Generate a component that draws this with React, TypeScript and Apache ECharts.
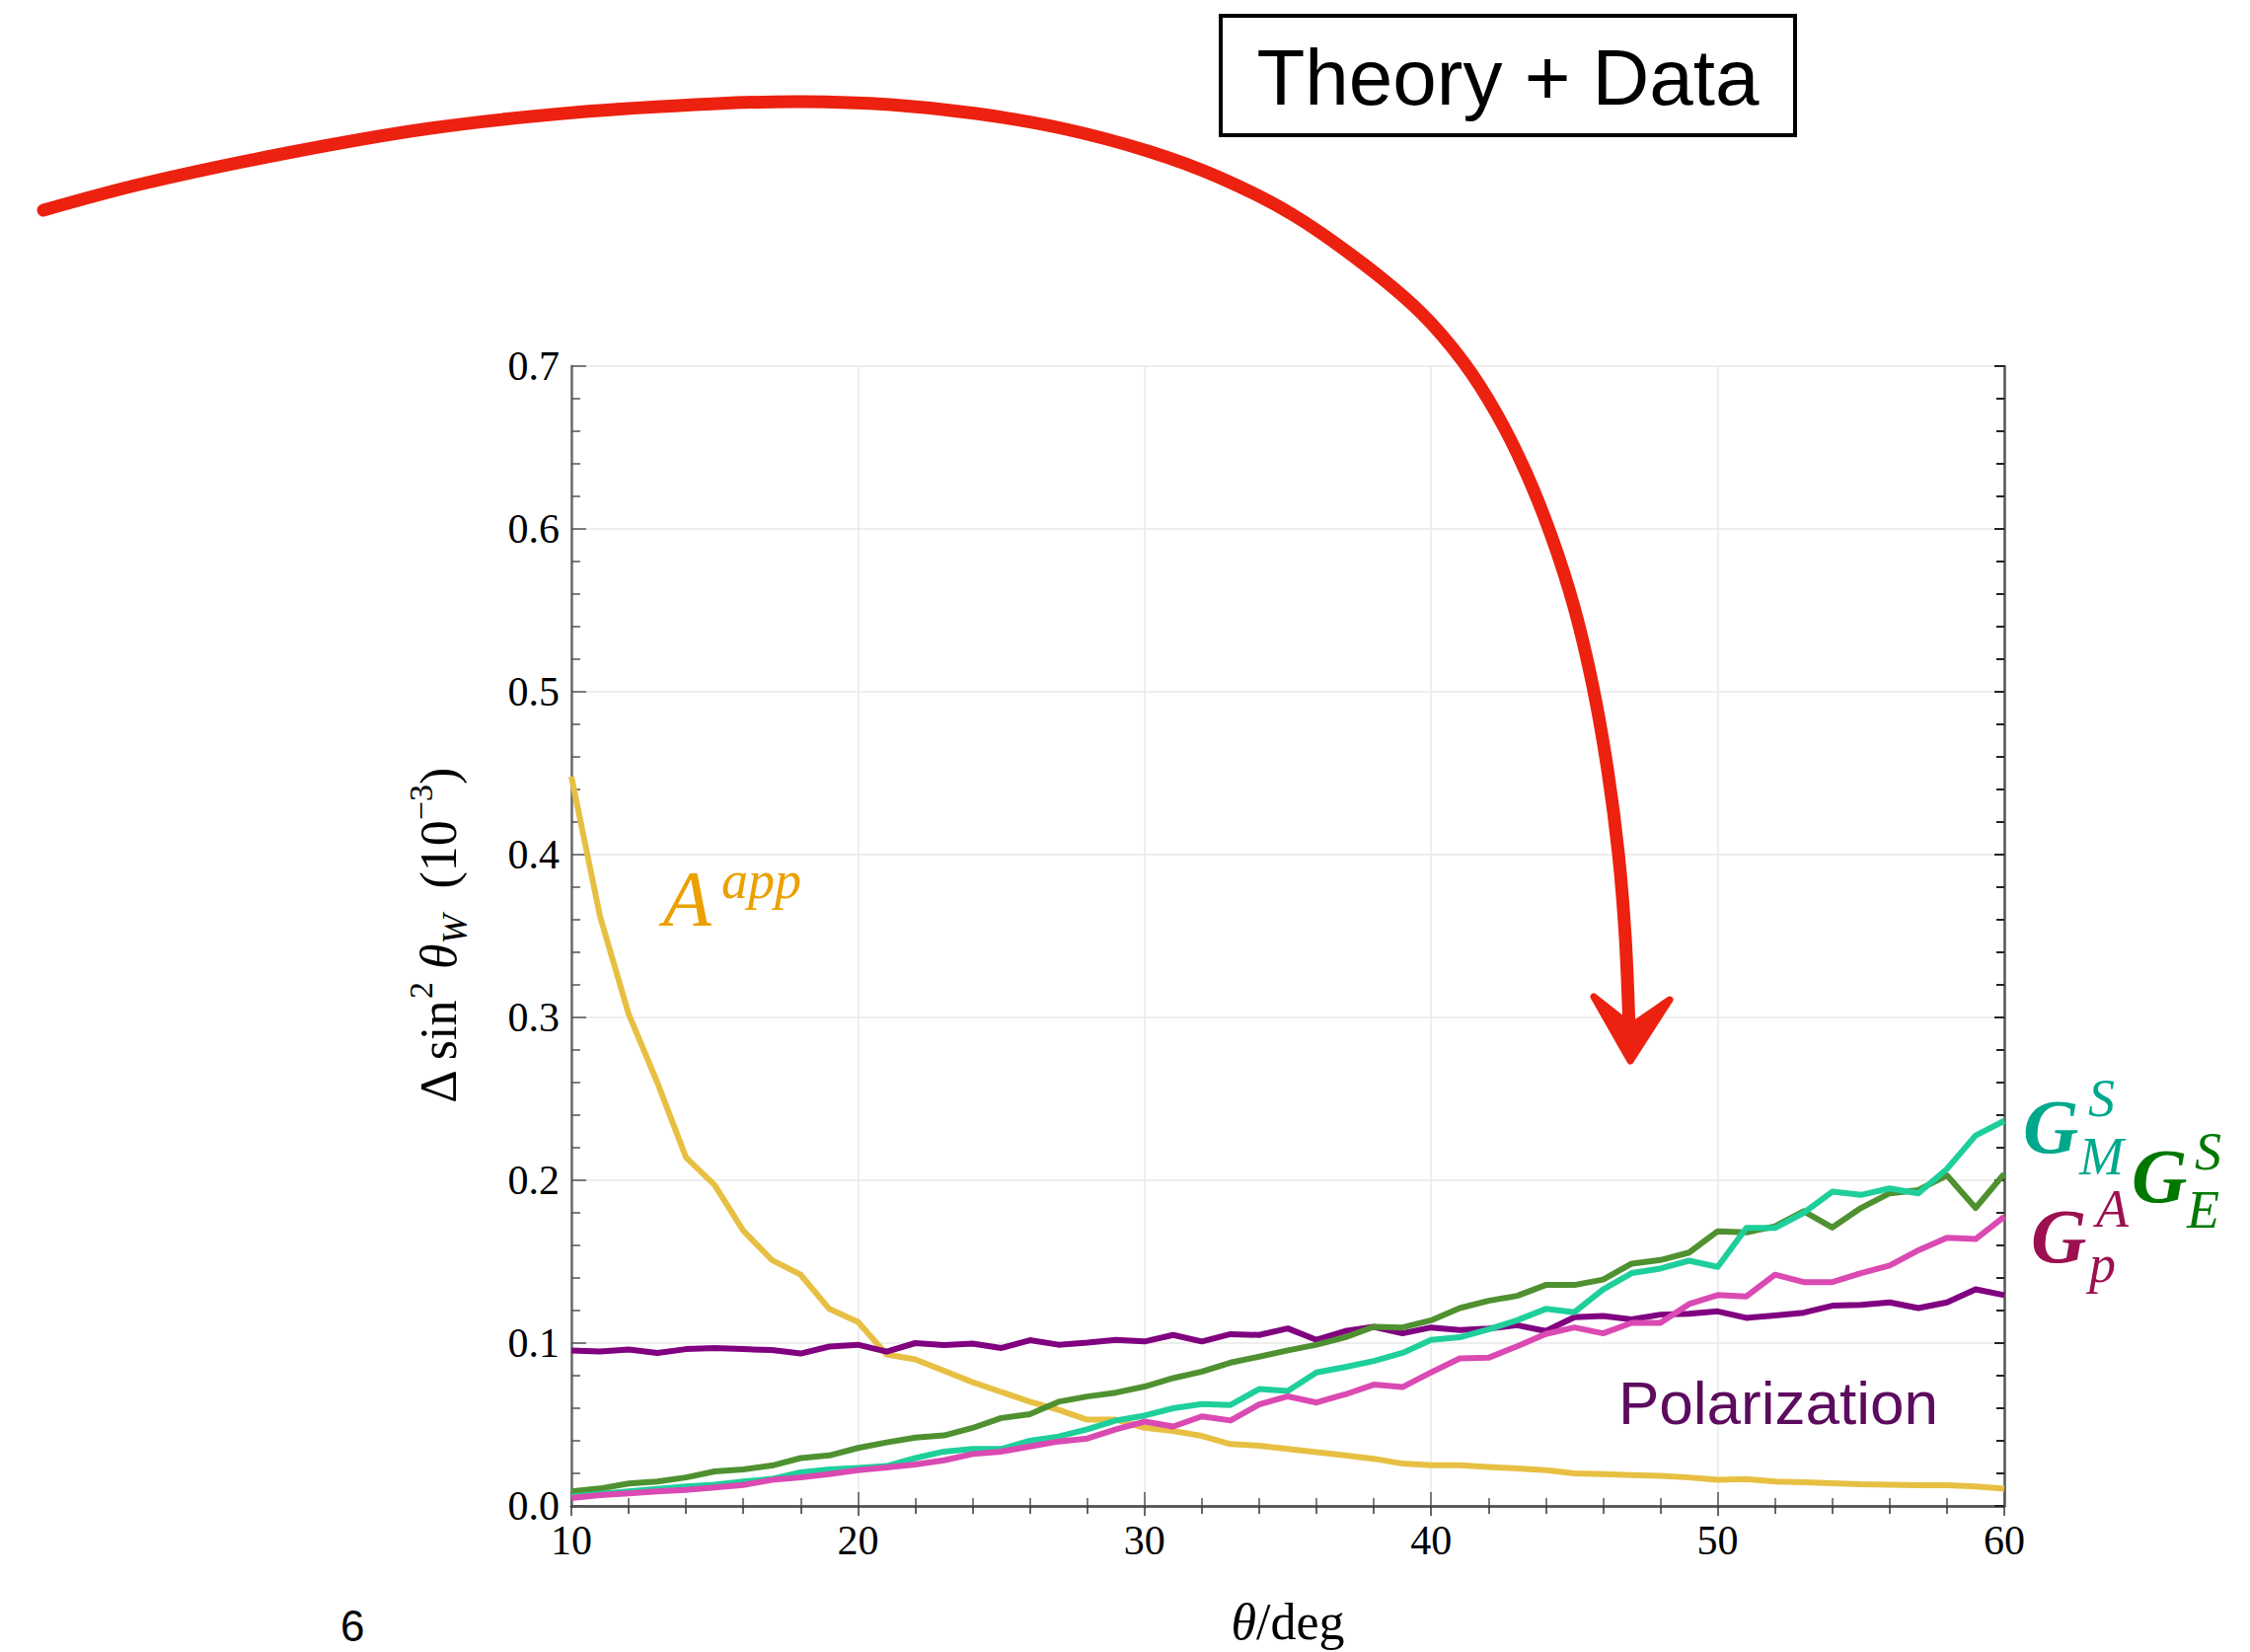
import React, { useEffect, useRef } from "react";
import * as echarts from "echarts";

// ---- data ----
const angles = [10, 11, 12, 13, 14, 15, 16, 17, 18, 19, 20, 21, 22, 23, 24, 25, 26, 27, 28, 29, 30, 31, 32, 33, 34, 35, 36, 37, 38, 39, 40, 41, 42, 43, 44, 45, 46, 47, 48, 49, 50, 51, 52, 53, 54, 55, 56, 57, 58, 59, 60];

const aApp = [0.448, 0.362, 0.302, 0.26, 0.214, 0.197, 0.169, 0.151, 0.142, 0.121, 0.113, 0.093, 0.09, 0.083, 0.076, 0.07, 0.064, 0.059, 0.053, 0.053, 0.048, 0.046, 0.043, 0.038, 0.037, 0.035, 0.033, 0.031, 0.029, 0.026, 0.025, 0.025, 0.024, 0.023, 0.022, 0.02, 0.0195, 0.019, 0.0185, 0.0175, 0.016, 0.0165, 0.015, 0.0145, 0.014, 0.0133, 0.013, 0.0127, 0.0127, 0.012, 0.0106];

const polarization = [0.0954, 0.0948, 0.096, 0.0939, 0.0963, 0.097, 0.0963, 0.0957, 0.0936, 0.0979, 0.099, 0.0948, 0.1, 0.0988, 0.0997, 0.097, 0.1018, 0.099, 0.1003, 0.102, 0.101, 0.105, 0.101, 0.1055, 0.105, 0.109, 0.102, 0.1074, 0.11, 0.106, 0.1096, 0.108, 0.109, 0.111, 0.1074, 0.1159, 0.1167, 0.1145, 0.1175, 0.118, 0.1195, 0.1155, 0.117, 0.1187, 0.123, 0.1235, 0.125, 0.1215, 0.125, 0.133, 0.1295];

const gES = [0.0089, 0.0107, 0.0138, 0.015, 0.0175, 0.0212, 0.0224, 0.0248, 0.0294, 0.031, 0.0356, 0.039, 0.042, 0.0433, 0.0479, 0.054, 0.0564, 0.064, 0.0672, 0.0696, 0.0733, 0.0785, 0.0825, 0.088, 0.0917, 0.0955, 0.099, 0.1036, 0.11, 0.1096, 0.114, 0.1215, 0.126, 0.129, 0.1357, 0.1357, 0.139, 0.1488, 0.151, 0.1556, 0.1687, 0.168, 0.1717, 0.181, 0.171, 0.183, 0.192, 0.194, 0.203, 0.183, 0.204];

const gMS = [0.0058, 0.0074, 0.0089, 0.0104, 0.012, 0.013, 0.015, 0.0166, 0.0206, 0.0224, 0.0233, 0.0245, 0.0294, 0.0334, 0.035, 0.035, 0.04, 0.0426, 0.047, 0.0525, 0.0555, 0.06, 0.0626, 0.062, 0.0718, 0.0706, 0.082, 0.0853, 0.089, 0.094, 0.102, 0.1036, 0.1084, 0.114, 0.121, 0.119, 0.133, 0.143, 0.1458, 0.1506, 0.1468, 0.1707, 0.1707, 0.18, 0.193, 0.191, 0.195, 0.192, 0.207, 0.2275, 0.2365];

const gpA = [0.0049, 0.0067, 0.0077, 0.0089, 0.0098, 0.0113, 0.0129, 0.016, 0.0175, 0.0196, 0.022, 0.0236, 0.0255, 0.028, 0.0319, 0.0334, 0.0365, 0.0396, 0.0414, 0.047, 0.0518, 0.0488, 0.055, 0.0525, 0.0623, 0.0673, 0.0635, 0.0685, 0.0745, 0.073, 0.082, 0.0906, 0.091, 0.098, 0.1056, 0.1096, 0.106, 0.1124, 0.1124, 0.124, 0.1295, 0.1287, 0.142, 0.1375, 0.1375, 0.143, 0.1476, 0.157, 0.1647, 0.1639, 0.1777];

const xTicks = { min: 10, max: 60, interval: 10 };
const yTicks = { min: 0, max: 0.7, interval: 0.1 };

const SERIF = "'Liberation Serif', 'Times New Roman', serif";
const SANS = "'Liberation Sans', Arial, sans-serif";

const toPairs = (vals: number[]) => angles.map((a, i) => [a, vals[i]]);

export default function App() {
  const ref = useRef<HTMLDivElement>(null);

  useEffect(() => {
    if (!ref.current) return;
    const chart = echarts.init(ref.current, null, { renderer: "svg" });

    const axisLineStyle = { color: "#6a6a6a", width: 2.5 };
    const frameLineStyle = { color: "#555", width: 2.5 };

    const mkLine = (name: string, vals: number[], color: string, z: number) => ({
      name,
      type: "line",
      data: toPairs(vals),
      showSymbol: false,
      symbol: "none",
      lineStyle: { color, width: 6, join: "round" },
      itemStyle: { color },
      z,
      xAxisIndex: 0,
      yAxisIndex: 0,
    });

    const richName = {
      n: { fontFamily: SERIF, fontSize: 52, color: "#000", lineHeight: 70, verticalAlign: "middle" },
      i: { fontFamily: SERIF, fontSize: 52, fontStyle: "italic", color: "#000", lineHeight: 70, verticalAlign: "middle" },
      sup: { fontFamily: SERIF, fontSize: 34, color: "#000", lineHeight: 34, verticalAlign: "top" },
      sub: { fontFamily: SERIF, fontSize: 36, fontStyle: "italic", color: "#000", lineHeight: 34, verticalAlign: "bottom" },
    };

    const arrowPts = [
      [44, 213], [145, 186], [291, 155], [436, 130], [582, 114], [727, 105], [814, 103], [902, 106],
      [989, 115], [1076, 130], [1163, 153], [1236, 180], [1309, 217], [1381, 267], [1440, 317],
      [1483, 367], [1517, 420], [1546, 478], [1572, 543], [1595, 615], [1614, 695], [1629, 780],
      [1640, 865], [1647, 950], [1651, 1045],
    ];

    const txt = (text: string, x: number, y: number, o: any) => ({
      type: "text",
      x,
      y,
      z: 100,
      style: { text, align: "left", verticalAlign: "middle", ...o },
    });

    chart.setOption({
      animation: false,
      backgroundColor: "#fff",
      grid: { left: 579, right: 249, top: 371, bottom: 143, containLabel: false },
      xAxis: [
        {
          type: "value",
          position: "bottom",
          ...xTicks,
          name: "{i|θ}{n|/deg}",
          nameLocation: "middle",
          nameGap: 82,
          nameTextStyle: { rich: richName },
          axisLine: { show: true, lineStyle: axisLineStyle },
          axisTick: { show: true, inside: true, length: 14, lineStyle: { color: "#555", width: 1.5 } },
          minorTick: { show: true, splitNumber: 5, length: 8, lineStyle: { color: "#555", width: 1.5 } },
          splitLine: { show: true, lineStyle: { color: "#e8e8e8", width: 1.5 } },
          axisLabel: { fontFamily: SERIF, fontSize: 42, color: "#000", margin: 14 },
        },
        {
          type: "value",
          position: "top",
          ...xTicks,
          axisLine: { show: true, lineStyle: frameLineStyle },
          axisTick: { show: true, inside: true, length: 10, lineStyle: { color: "#333", width: 1.5 } },
          minorTick: { show: true, splitNumber: 5, length: 8, lineStyle: { color: "#333", width: 1.5 } },
          splitLine: { show: false },
          axisLabel: { show: false },
        },
      ],
      yAxis: [
        {
          type: "value",
          position: "left",
          ...yTicks,
          name: "{n|Δ sin}{sup|2}{n| }{i|θ}{sub|W}{n|  (10}{sup|−3}{n|)}",
          nameLocation: "middle",
          nameRotate: 90,
          nameGap: 100,
          nameTextStyle: { rich: richName },
          axisLine: { show: true, lineStyle: axisLineStyle },
          axisTick: { show: true, inside: true, length: 15, lineStyle: { color: "#555", width: 1.5 } },
          minorTick: { show: true, splitNumber: 5, length: 9, lineStyle: { color: "#555", width: 1.5 } },
          splitLine: { show: true, lineStyle: { color: "#e8e8e8", width: 1.5 } },
          axisLabel: {
            fontFamily: SERIF,
            fontSize: 42,
            color: "#000",
            margin: 12,
            formatter: (v: number) => v.toFixed(1),
          },
        },
        {
          type: "value",
          position: "right",
          ...yTicks,
          axisLine: { show: true, lineStyle: frameLineStyle },
          axisTick: { show: true, inside: true, length: 10, lineStyle: { color: "#222", width: 2 } },
          minorTick: { show: true, splitNumber: 5, length: 8, lineStyle: { color: "#222", width: 2 } },
          splitLine: { show: false },
          axisLabel: { show: false },
        },
      ],
      series: [
        mkLine("A^app", aApp, "#E7C043", 2),
        mkLine("Polarization", polarization, "#800080", 3),
        mkLine("G_E^S", gES, "#4F9130", 4),
        mkLine("G_M^S", gMS, "#1FCF9B", 5),
        mkLine("G_p^A", gpA, "#DA4AB2", 6),
      ],
      graphic: [
        // Theory + Data box
        {
          type: "rect",
          z: 100,
          shape: { x: 1237, y: 16, width: 582, height: 121 },
          style: { fill: "#fff", stroke: "#000", lineWidth: 4 },
        },
        {
          type: "text",
          x: 1528,
          y: 78,
          z: 101,
          style: { text: "Theory + Data", font: `80px ${SANS}`, fill: "#000", align: "center", verticalAlign: "middle" },
        },
        // hand-drawn red arrow
        {
          type: "polyline",
          z: 110,
          shape: { points: arrowPts, smooth: 0.35 },
          style: { stroke: "#EC2110", lineWidth: 13, fill: null, lineCap: "round", lineJoin: "round" },
        },
        {
          type: "polygon",
          z: 111,
          shape: { points: [[1615, 1010], [1652, 1075], [1692, 1013], [1653, 1040]] },
          style: { fill: "#EC2110", stroke: "#EC2110", lineWidth: 7, lineJoin: "round" },
        },
        // page number
        txt("6", 345, 1647, { font: `44px ${SANS}`, fill: "#000" }),
        // A^app
        txt("A", 672, 911, { font: `italic 80px ${SERIF}`, fill: "#EBA000" }),
        txt("app", 731, 892, { font: `italic 54px ${SERIF}`, fill: "#EBA000" }),
        // Polarization
        txt("Polarization", 1640, 1421, { font: `62px ${SANS}`, fill: "#5C0B5E" }),
        // G_M^S
        txt("G", 2050, 1141, { font: `italic bold 78px ${SERIF}`, fill: "#00A88C" }),
        txt("S", 2116, 1113, { font: `italic 54px ${SERIF}`, fill: "#00A88C" }),
        txt("M", 2107, 1172, { font: `italic 54px ${SERIF}`, fill: "#00A88C" }),
        // G_E^S
        txt("G", 2160, 1191, { font: `italic bold 78px ${SERIF}`, fill: "#007800" }),
        txt("S", 2224, 1167, { font: `italic 54px ${SERIF}`, fill: "#007800" }),
        txt("E", 2216, 1226, { font: `italic 54px ${SERIF}`, fill: "#007800" }),
        // G_p^A
        txt("G", 2058, 1252, { font: `italic bold 78px ${SERIF}`, fill: "#9C1050" }),
        txt("A", 2124, 1225, { font: `italic 54px ${SERIF}`, fill: "#9C1050" }),
        txt("p", 2117, 1281, { font: `italic 54px ${SERIF}`, fill: "#9C1050" }),
      ],
    });

    return () => chart.dispose();
  }, []);

  return (
    <div
      ref={ref}
      style={{ position: "fixed", left: 0, top: 0, width: 2280, height: 1674, background: "#fff" }}
    />
  );
}
